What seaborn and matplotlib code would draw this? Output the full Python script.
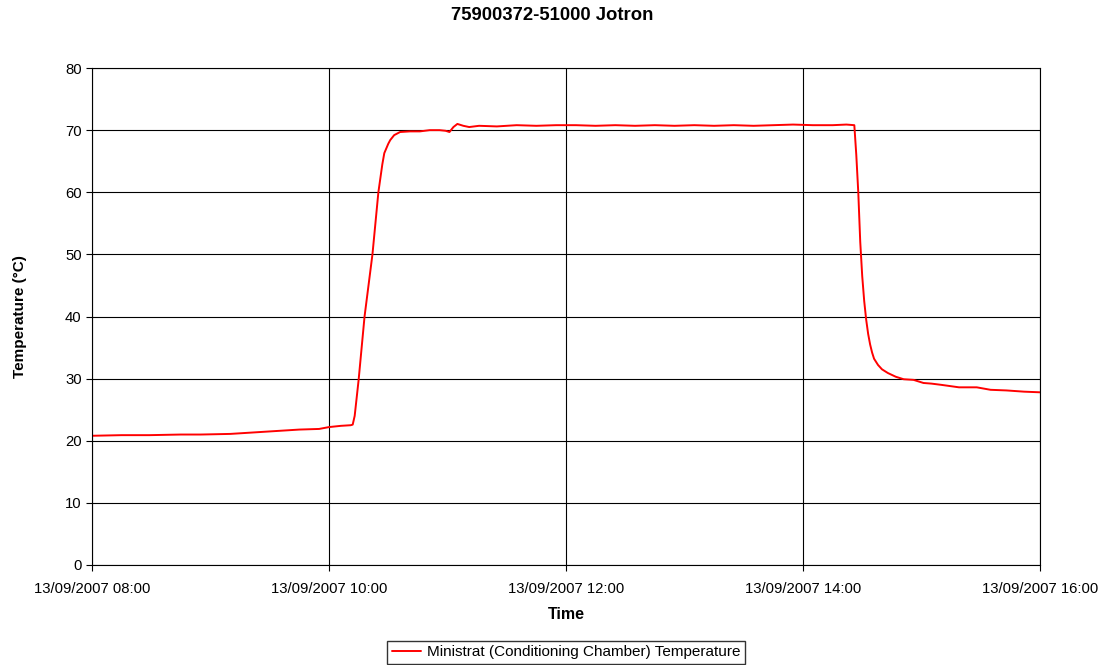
import pandas as pd
import numpy as np
import seaborn as sns
import matplotlib.pyplot as plt
import matplotlib.dates as mdates

# readings (time of day, deg C)
times = ["08:00", "08:15", "08:29", "08:45", "08:55", "09:10", "09:20", "09:35",
         "09:45", "09:55", "10:00", "10:06", "10:11", "10:12", "10:13", "10:15",
         "10:18", "10:22", "10:25", "10:27", "10:28", "10:30", "10:31", "10:33",
         "10:36", "10:41", "10:46", "10:51", "10:56", "10:59", "11:01", "11:03",
         "11:05", "11:08", "11:11", "11:16", "11:25", "11:35", "11:45", "11:55",
         "12:05", "12:15", "12:25", "12:35", "12:45", "12:55", "13:05", "13:15",
         "13:25", "13:35", "13:45", "13:55", "14:05", "14:15", "14:22", "14:26",
         "14:27", "14:28", "14:29", "14:30", "14:31", "14:32", "14:33", "14:34",
         "14:35", "14:36", "14:38", "14:40", "14:43", "14:47", "14:51", "14:56",
         "15:01", "15:05", "15:10", "15:19", "15:28", "15:35", "15:43", "15:52",
         "16:00"]
temps = [20.8, 20.9, 20.9, 21.0, 21.0, 21.1, 21.3, 21.6,
         21.8, 21.9, 22.2, 22.4, 22.5, 22.6, 24.0, 29.8,
         40.0, 50.0, 60.0, 64.5, 66.3, 67.8, 68.4, 69.2,
         69.7, 69.8, 69.8, 70.0, 70.0, 69.9, 69.7, 70.5,
         71.0, 70.7, 70.5, 70.7, 70.6, 70.8, 70.7, 70.8,
         70.8, 70.7, 70.8, 70.7, 70.8, 70.7, 70.8, 70.7,
         70.8, 70.7, 70.8, 70.9, 70.8, 70.8, 70.9, 70.8,
         66.0, 60.0, 52.0, 46.5, 42.5, 39.5, 37.2, 35.5,
         34.2, 33.2, 32.2, 31.5, 30.9, 30.3, 29.9, 29.8,
         29.3, 29.2, 29.0, 28.6, 28.6, 28.2, 28.1, 27.9,
         27.8]

df = pd.DataFrame({"Time": pd.to_datetime(["2007-09-13 " + t for t in times]),
                   "Temp": temps})

sns.set_style("white")
plt.rcParams['font.family'] = ['Liberation Sans', 'DejaVu Sans']
plt.rcParams['text.color'] = 'black'
plt.rcParams['axes.labelcolor'] = 'black'
plt.rcParams['xtick.color'] = 'black'
plt.rcParams['ytick.color'] = 'black'

fig = plt.figure(figsize=(11.1, 6.65), dpi=100)
ax = fig.add_axes([0.0829, 0.1504, 0.854, 0.7473])

sns.lineplot(data=df, x="Time", y="Temp", color="#ff0000", linewidth=1.4,
             label="Ministrat (Conditioning Chamber) Temperature", ax=ax)

ax.set_xlim(pd.Timestamp("2007-09-13 08:00"), pd.Timestamp("2007-09-13 16:00"))
ax.set_ylim(0, 80)
ax.set_yticks(range(0, 81, 10))
ax.xaxis.set_major_locator(mdates.HourLocator(byhour=[8, 10, 12, 14, 16]))
ax.xaxis.set_major_formatter(mdates.DateFormatter("%d/%m/%Y %H:%M"))
ax.grid(True, color="black", linewidth=0.8)
for s in ax.spines.values():
    s.set_color("black")
    s.set_linewidth(0.8)
ax.tick_params(axis="both", direction="out", length=4, color="black",
               labelsize=10.7, bottom=True, left=True)
ax.tick_params(axis="x", pad=8)

# title sits a little left of the axes centre in the original
fig.text(552 / 1110, 1 - 15 / 665, "75900372-51000 Jotron", fontsize=13.3,
         fontweight="bold", ha="center", va="center")
ax.set_xlabel("Time", fontsize=11.5, fontweight="bold", labelpad=8)
ax.set_ylabel("Temperature (°C)", fontsize=11, fontweight="bold", labelpad=27)

ax.legend(loc="upper center", bbox_to_anchor=(0.5, -0.152), frameon=True,
          fancybox=False, edgecolor="black", fontsize=11, handlelength=1.9,
          handletextpad=0.4, borderpad=0.3, borderaxespad=0)

fig.savefig("out.png", dpi=100)
